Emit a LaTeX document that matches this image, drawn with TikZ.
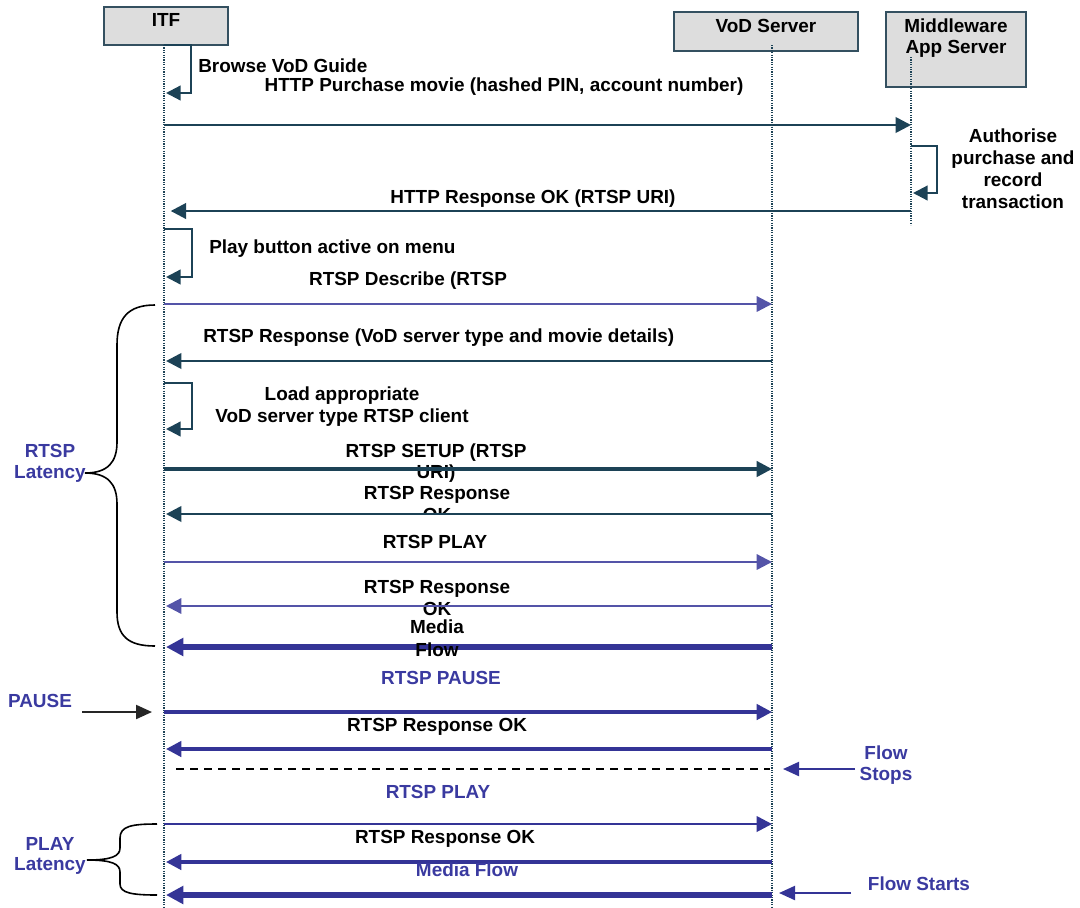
\documentclass[tikz,border=0pt]{standalone}
\usepackage{fontspec}
\setmainfont{Liberation Sans}
\usetikzlibrary{arrows.meta}
\definecolor{seqteal}{RGB}{28,66,86}
\definecolor{seqblue}{RGB}{52,52,150}
\definecolor{seqbluelt}{RGB}{84,84,168}
\definecolor{txtblue}{RGB}{58,58,160}
\definecolor{boxfill}{RGB}{221,221,221}
\definecolor{boxline}{RGB}{52,80,96}
\newcommand\lblfont{\bfseries\fontsize{14.2}{16.5}\selectfont}
\begin{document}
\begin{tikzpicture}[x=0.75pt,y=-0.75pt,
  actor/.style={draw=boxline, fill=boxfill, line width=1.1pt, inner sep=0pt, font=\lblfont, align=center},
  life/.style={draw=seqteal, line width=0.9pt, dash pattern=on 0.9pt off 0.9pt},
  lbl/.style={font=\lblfont, inner sep=0pt, anchor=base, align=center},
  bluelbl/.style={lbl, text=txtblue},
  head/.style={-{Triangle[length=11.5pt,width=11.5pt]}},
  tmsg/.style={head, draw=seqteal, line width=2pt},
  bmsg/.style={head, draw=seqblue, line width=2pt},
  bmid/.style={head, draw=seqblue, line width=2.6pt},
  bthin/.style={head, draw=seqbluelt, line width=1.7pt},
  bthick/.style={-{Triangle[length=13pt,width=13pt]}, draw=seqblue, line width=5pt},
  selfloop/.style={-{Triangle[length=11pt,width=11pt]}, draw=seqteal, line width=1.7pt},
  brace/.style={draw=black, line width=1.2pt},
  pointer/.style={-{Triangle[length=12pt,width=10.5pt]}, line width=1.6pt}
]
\useasboundingbox (0,0) rectangle (1080,907);

% participants (multi-line text: the base line is that of the last line)
\node[actor, minimum width=93pt, minimum height=28.5pt, text height=14.5pt, text depth=14pt] (itf) at (166,26) {ITF};
\node[actor, minimum width=138pt, minimum height=29.25pt, text height=15pt, text depth=14.25pt] (vod) at (766,31.5) {VoD Server};
\node[actor, minimum width=105pt, minimum height=56.25pt, text height=30.75pt, text depth=25.5pt] (mw) at (956,49.5) {Middleware\\[-0.75pt]App Server};

% lifelines
\coordinate (itfx) at (164,45);
\coordinate (vodx) at (772,45);
\coordinate (mwx) at (911,57);
\coordinate (itfEnd) at (164,907);
\coordinate (vodEnd) at (772,907);
\coordinate (mwEnd) at (911,225);
\draw[life] (itfx) -- (itfEnd);
\draw[life] (vodx) -- (vodEnd);
\draw[life] (mwx) -- (mwEnd);

% message rows
\foreach \n/\y in {r1/125, r2/211, r3/304, r4/361, r5/469, r6/514, r7/562, r8/606, r9/647,
                   r10/712, r11/749, r12/769, r13/824, r14/862, r15/895,
                   l1a/45, l1b/93, l2a/229, l2b/277, l3a/383, l3b/429, m1a/146, m1b/193}
  \coordinate (\n) at (0,\y);

% self messages
\draw[selfloop] (itfx |- l1a) -- ++(27,0) |- ([xshift=1.5pt]itfx |- l1b);
\draw[selfloop] (itfx |- l2a) -- ++(28,0) |- ([xshift=1.5pt]itfx |- l2b);
\draw[selfloop] (itfx |- l3a) -- ++(28,0) |- ([xshift=1.5pt]itfx |- l3b);
\draw[selfloop] (mwx |- m1a) -- ++(26,0) |- ([xshift=1.5pt]mwx |- m1b);

% labels
\node[lbl, anchor=base west] (tBrowse) at (198,72) {Browse VoD Guide};
\node[lbl] (tHttp) at (504,91) {HTTP Purchase movie (hashed PIN, account number)};
\node[lbl] (tAuth) at (1013,208) {Authorise\\purchase and\\record\\transaction};
\node[lbl] (tHttpOk) at (533,203) {HTTP Response OK (RTSP URI)};
\node[lbl, anchor=base west] (tPlayBtn) at (209,253) {Play button active on menu};
\node[lbl] (tDescr) at (408,285) {RTSP Describe (RTSP};
\node[lbl, anchor=base west] (tResp1) at (203,342) {RTSP Response (VoD server type and movie details)};
\node[lbl] (tLoad) at (342,422) {Load appropriate\\VoD server type RTSP client};
\node[lbl] (tSetup) at (436,478) {RTSP SETUP (RTSP\\[-0.75pt]URI)};
\begin{scope}
  \clip (300,470) rectangle (600,512);
  \node[lbl] (tResp2) at (437,521) {RTSP Response\\OK};
\end{scope}
\node[lbl] (tPlay1) at (435,548) {RTSP PLAY};
\node[lbl] (tResp3) at (437,615) {RTSP Response\\OK};

% messages
\draw[tmsg] (itfx |- r1) -- (mwx |- r1);
\draw[tmsg] (mwx |- r2) -- ([xshift=5pt]itfx |- r2);
\draw[bthin] (itfx |- r3) -- (vodx |- r3);
\draw[tmsg] (vodx |- r4) -- ([xshift=1.5pt]itfx |- r4);
\draw[tmsg, line width=2.4pt] (itfx |- r5) -- (vodx |- r5);
\draw[tmsg] (vodx |- r6) -- ([xshift=1.5pt]itfx |- r6);
\draw[bthin] (itfx |- r7) -- (vodx |- r7);
\draw[bthin] (vodx |- r8) -- ([xshift=1.5pt]itfx |- r8);
\draw[bthick] (vodx |- r9) -- ([xshift=1.5pt]itfx |- r9);
\draw[bmid] (itfx |- r10) -- (vodx |- r10);
\draw[bmid] (vodx |- r11) -- ([xshift=1.5pt]itfx |- r11);
\draw[draw=black, line width=1.3pt, dash pattern=on 6pt off 4.5pt] ([xshift=9pt]itfx |- r12) -- ([xshift=-1.5pt]vodx |- r12);
\draw[bmsg] (itfx |- r13) -- (vodx |- r13);
\draw[bmid] (vodx |- r14) -- ([xshift=1.5pt]itfx |- r14);
\draw[bthick] (vodx |- r15) -- ([xshift=1.5pt]itfx |- r15);

% labels drawn over the lines
\node[lbl] (tMedia) at (437,656) {Media\\[0.75pt]Flow};
\node[bluelbl] (tPause) at (441,684) {RTSP PAUSE};
\node[lbl] (tResp4) at (437,731) {RTSP Response OK};
\node[bluelbl] (tPlay2) at (438,798) {RTSP PLAY};
\node[lbl] (tResp5) at (445,843) {RTSP Response OK};
\node[bluelbl] (tMedia2) at (467,876) {Media Flow};

% side annotations
\node[bluelbl] (tRtspLat) at (50,478) {RTSP\\[-0.75pt]Latency};
\node[bluelbl] (tPlayLat) at (50,870) {PLAY\\[-1.5pt]Latency};
\node[bluelbl] (tPauseKey) at (40,707) {PAUSE};
\node[bluelbl] (tStops) at (886,780) {Flow\\[-0.75pt]Stops};
\node[bluelbl] (tStarts) at (919,890) {Flow Starts};

\coordinate (pauseFrom) at (82,712);
\coordinate (pauseTo) at (152,712);
\draw[pointer, draw=black!85] (pauseFrom) -- (pauseTo);
\coordinate (stopsFrom) at (855,769);
\coordinate (stopsTo) at (783,769);
\draw[pointer, draw=seqblue] (stopsFrom) -- (stopsTo);
\coordinate (startsFrom) at (851,893);
\coordinate (startsTo) at (779,893);
\draw[pointer, draw=seqblue] (startsFrom) -- (startsTo);

% latency braces
\draw[brace] (155,305) .. controls (128,305) and (117,318) .. (117,345) -- (117,442)
  .. controls (117,462) and (108,473) .. (85,473)
  .. controls (108,473) and (117,484) .. (117,504) -- (117,612)
  .. controls (117,636) and (128,646) .. (155,646);
\draw[brace] (157,824) .. controls (132,824) and (120,826) .. (120,838) -- (120,848)
  .. controls (120,856) and (112,860) .. (87,860)
  .. controls (112,860) and (120,864) .. (120,872) -- (120,884)
  .. controls (120,893) and (132,895) .. (157,895);
\end{tikzpicture}
\end{document}
